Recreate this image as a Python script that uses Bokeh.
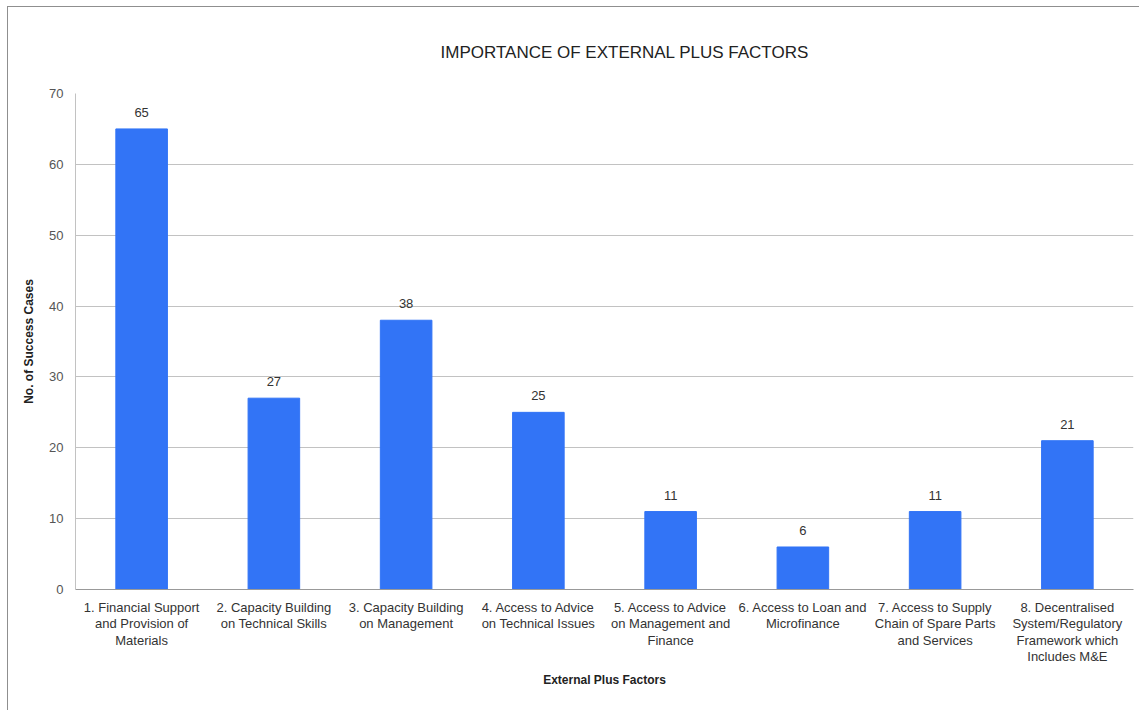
from bokeh.plotting import figure
from bokeh.models import ColumnDataSource, LabelSet, Range1d, FixedTicker
from bokeh.core.properties import value
from bokeh.embed import file_html
from bokeh.resources import INLINE

# External plus factors and the number of success cases for each
factors = [
    "1. Financial Support\nand Provision of\nMaterials",
    "2. Capacity Building\non Technical Skills",
    "3. Capacity Building\non Management",
    "4. Access to Advice\non Technical Issues",
    "5. Access to Advice\non Management and\nFinance",
    "6. Access to Loan and\nMicrofinance",
    "7. Access to Supply\nChain of Spare Parts\nand Services",
    "8. Decentralised\nSystem/Regulatory\nFramework which\nIncludes M&E",
]
cases = [65, 27, 38, 25, 11, 6, 11, 21]
y_ticks = [0, 10, 20, 30, 40, 50, 60, 70]

FONT = "Liberation Sans"
BAR = "#3274f6"

src = ColumnDataSource(dict(factor=factors, cases=cases,
                            label=[str(v) for v in cases]))

p = figure(
    x_range=factors,
    y_range=Range1d(0, 70),
    width=1132, height=704,
    output_backend="svg", toolbar_location=None,
    title="IMPORTANCE OF EXTERNAL PLUS FACTORS",
    min_border_left=67, min_border_right=7,
    min_border_top=86, min_border_bottom=122,
)
p.styles = {
    "margin-left": "7px", "margin-top": "6px",
    "border-left": "1px solid #8f8f8f", "border-top": "1px solid #8f8f8f",
}

p.vbar(x="factor", top="cases", width=0.39, source=src,
       fill_color=BAR, line_color=BAR)

p.add_layout(LabelSet(x="factor", y="cases", text="label", source=src,
                      text_align="center", text_baseline="bottom",
                      y_offset=12, text_font=value(FONT),
                      text_font_size="13px", text_color="#333333"))

# title, placed a little right of the frame centre
p.title.align = "left"
p.title.offset = 365
p.title.text_font = FONT
p.title.text_font_size = "17px"
p.title.text_font_style = "normal"
p.title.text_color = "#222222"
p.title.standoff = 63

# frame and grid
p.outline_line_color = None
p.background_fill_color = "white"
p.border_fill_color = "white"
p.xgrid.grid_line_color = None
p.ygrid.grid_line_color = "#c2c2c2"
p.ygrid.grid_line_width = 1

# y axis
p.yaxis.ticker = FixedTicker(ticks=y_ticks)
p.yaxis.axis_label = "No. of Success Cases"
p.yaxis.axis_label_text_font = FONT
p.yaxis.axis_label_text_font_size = "12px"
p.yaxis.axis_label_text_font_style = "bold"
p.yaxis.axis_label_text_color = "#222222"
p.yaxis.axis_label_standoff = 10
p.yaxis.major_label_text_font = FONT
p.yaxis.major_label_text_font_size = "13px"
p.yaxis.major_label_text_color = "#555555"
p.yaxis.major_label_standoff = 6
p.yaxis.axis_line_color = "#c2c2c2"
p.yaxis.major_tick_line_color = None
p.yaxis.minor_tick_line_color = None

# x axis
p.xaxis.axis_label = "External Plus Factors"
p.xaxis.axis_label_text_font = FONT
p.xaxis.axis_label_text_font_size = "12px"
p.xaxis.axis_label_text_font_style = "bold"
p.xaxis.axis_label_text_color = "#222222"
p.xaxis.axis_label_standoff = 6
p.xaxis.major_label_text_font = FONT
p.xaxis.major_label_text_font_size = "13px"
p.xaxis.major_label_text_color = "#333333"
p.xaxis.major_label_text_line_height = 1.1
p.xaxis.major_label_standoff = 4
p.xaxis.axis_line_color = "#999999"
p.xaxis.major_tick_line_color = None
p.xaxis.minor_tick_line_color = None
p.x_range.range_padding = 0.0

open("out.html", "w").write(file_html(p, INLINE))
